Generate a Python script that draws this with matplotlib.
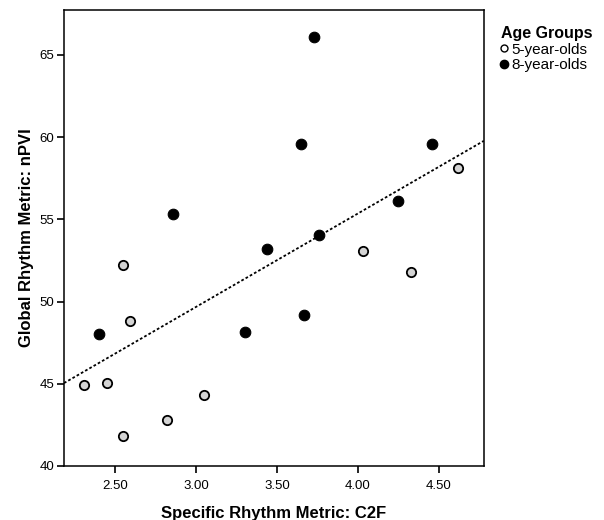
import matplotlib
matplotlib.use("Agg")
import matplotlib.pyplot as plt
import numpy as np
from matplotlib.lines import Line2D

plt.rcParams['font.family'] = ['Liberation Sans', 'DejaVu Sans']

# Data
c2f_5 = [2.31, 2.45, 2.55, 2.59, 2.55, 2.82, 3.05, 4.03, 4.33, 4.62]
npvi_5 = [44.9, 45.05, 52.2, 48.8, 41.8, 42.8, 44.3, 53.1, 51.8, 58.1]
c2f_8 = [2.40, 2.86, 3.30, 3.44, 3.65, 3.73, 3.67, 3.76, 4.25, 4.46]
npvi_8 = [48.0, 55.3, 48.15, 53.2, 59.6, 66.1, 49.2, 54.05, 56.1, 59.6]
group_labels = ["5-year-olds", "8-year-olds"]
x_ticks = [2.50, 3.00, 3.50, 4.00, 4.50]
y_ticks = [40, 45, 50, 55, 60, 65]

fig = plt.figure(figsize=(6.04, 5.20), dpi=100)
ax = fig.add_axes([0.106, 0.104, 0.695, 0.877])

xlim = (2.185, 4.778)
ylim = (40, 67.74)

# regression line over all points
all_x = np.array(c2f_5 + c2f_8)
all_y = np.array(npvi_5 + npvi_8)
slope, intercept = np.polyfit(all_x, all_y, 1)
lx = np.array(xlim)
ax.plot(lx, slope * lx + intercept, color='black', lw=1.3,
        linestyle=(0, (1.5, 1.2)), zorder=2)

ax.scatter(c2f_5, npvi_5, s=45, facecolor='#d4d4d4', edgecolor='black',
           linewidths=1.3, zorder=3)
ax.scatter(c2f_8, npvi_8, s=58, facecolor='black', edgecolor='black',
           linewidths=0.8, zorder=3)

ax.set_xlim(*xlim)
ax.set_ylim(*ylim)
ax.set_xticks(x_ticks)
ax.set_xticklabels([f"{t:.2f}" for t in x_ticks])
ax.set_yticks(y_ticks)
ax.set_yticklabels([str(t) for t in y_ticks])
ax.tick_params(direction='out', length=5, width=1.2, labelsize=9.5,
               colors='black')
ax.tick_params(axis='x', pad=5)
ax.tick_params(axis='y', pad=2)

for s in ax.spines.values():
    s.set_linewidth(1.1)
    s.set_color('black')

ax.set_xlabel("Specific Rhythm Metric: C2F", fontsize=12, fontweight='bold',
              labelpad=10)
ax.set_ylabel("Global Rhythm Metric: nPVI", fontsize=12, fontweight='bold',
              labelpad=4)

handles = [
    Line2D([], [], marker='o', linestyle='none', markersize=5,
           markerfacecolor='white', markeredgecolor='black', markeredgewidth=1),
    Line2D([], [], marker='o', linestyle='none', markersize=6,
           markerfacecolor='black', markeredgecolor='black'),
]
leg = fig.legend(handles, group_labels, title="Age Groups",
                 loc='upper left', bbox_to_anchor=(0.830, 0.950),
                 frameon=False, fontsize=11, title_fontsize=11.5,
                 handlelength=0.3, handletextpad=0.35, labelspacing=0.1,
                 borderpad=0, borderaxespad=0)
leg.get_title().set_fontweight('bold')
leg._legend_box.align = "left"

fig.savefig("out.png", dpi=100, facecolor='white')
